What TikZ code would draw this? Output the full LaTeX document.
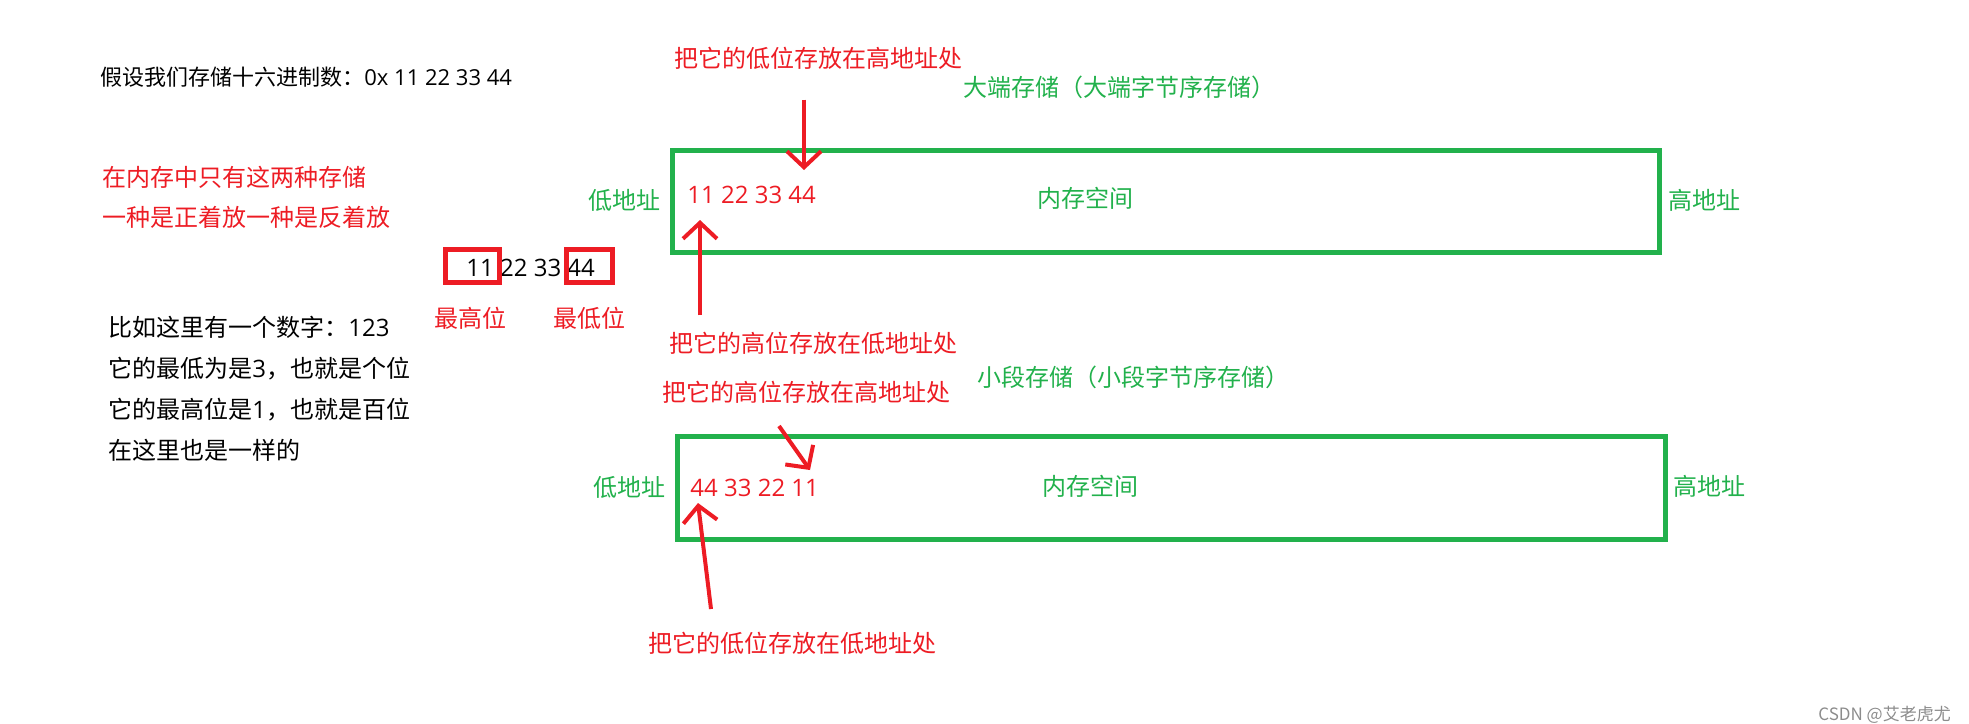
\documentclass[tikz,border=0pt]{standalone}
\usepackage{fontspec}
\newfontfamily\cjk{Noto Sans CJK SC}
\newfontfamily\latin{Open Sans}
\usetikzlibrary{arrows.meta}
\definecolor{paintred}{RGB}{237,28,36}
\definecolor{paintgreen}{RGB}{34,177,76}

\tikzset{
  lbl/.style={font=\cjk\fontsize{12}{14}\selectfont, inner sep=0pt, anchor=west},
  redlbl/.style={lbl, text=paintred},
  greenlbl/.style={lbl, text=paintgreen},
  membox/.style={draw=paintgreen, line width=2.5pt},
  markbox/.style={draw=paintred, line width=2.5pt},
  redarrow/.style={draw=paintred, line width=2pt, -{Straight Barb[length=8pt, width=17pt]}},
}

\begin{document}
\begin{tikzpicture}[x=0.5pt, y=-0.5pt]
  \useasboundingbox (0,0) rectangle (1969,723);
  % left notes
  \node[lbl, font=\cjk\fontsize{11}{13}\selectfont] (intro) at (100,77) {假设我们存储十六进制数：{\latin 0x 11 22 33 44}};
  \node[redlbl, align=left, font=\cjk\fontsize{12}{20}\selectfont] (only) at (102,197) {在内存中只有这两种存储\\一种是正着放一种是反着放};
  \node[lbl] (num) at (466,268) {\latin 11 22 33 44};
  \draw[markbox] (445.5,249.5) rectangle (499.5,282.5);
  \draw[markbox] (566.5,249.5) rectangle (612.5,282.5);
  \node[redlbl] (msb) at (434,318) {最高位};
  \node[redlbl] (lsb) at (553,318) {最低位};
  \node[lbl, align=left, font=\cjk\fontsize{12}{20.5}\selectfont] (eg) at (108,388.5) {比如这里有一个数字：{\latin 123}\\它的最低为是{\latin 3}，也就是个位\\它的最高位是{\latin 1}，也就是百位\\在这里也是一样的};
  % big endian
  \draw[membox] (672.5,150) rectangle (1659.5,252);
  \node[greenlbl] (bigtitle) at (963,87) {大端存储（大端字节序存储）};
  \node[greenlbl] (biglow) at (588,200) {低地址};
  \node[greenlbl] (bigmem) at (1037,198) {内存空间};
  \node[greenlbl] (bighigh) at (1668,200) {高地址};
  \node[redlbl] (bigdata) at (687,195) {\latin 11 22 33 44};
  \node[redlbl] (bigtop) at (674,58) {把它的低位存放在高地址处};
  \node[redlbl] (bigbot) at (669,343) {把它的高位存放在低地址处};
  \coordinate (bigtip1) at (804,170);
  \coordinate (bigtip2) at (700,220);
  \draw[redarrow, shorten <=15pt] (bigtop.south -| bigtip1) -- (bigtip1);
  \draw[redarrow, shorten <=8pt] (bigbot.north -| bigtip2) -- (bigtip2);
  % little endian
  \draw[membox] (677,436.5) rectangle (1665,539.5);
  \node[greenlbl] (smalltitle) at (977,377) {小段存储（小段字节序存储）};
  \node[greenlbl] (smalllow) at (593,487) {低地址};
  \node[greenlbl] (smallmem) at (1042,486) {内存空间};
  \node[greenlbl] (smallhigh) at (1673,486) {高地址};
  \node[redlbl] (smalldata) at (690,488) {\latin 44 33 22 11};
  \node[redlbl] (smalltop) at (662,392) {把它的高位存放在高地址处};
  \node[redlbl] (smallbot) at (648,643) {把它的低位存放在低地址处};
  \coordinate (smalltail1) at (779,426);
  \coordinate (smalltip1) at (810,470);
  \coordinate (smalltail2) at (711,609);
  \coordinate (smalltip2) at (698,503);
  \draw[redarrow] (smalltail1) -- (smalltip1);
  \draw[redarrow] (smalltail2) -- (smalltip2);
  % watermark
  \node[lbl, text=black!45, font=\cjk\fontsize{8.5}{10}\selectfont] (mark) at (1818,715) {CSDN @艾老虎尤};
\end{tikzpicture}
\end{document}
